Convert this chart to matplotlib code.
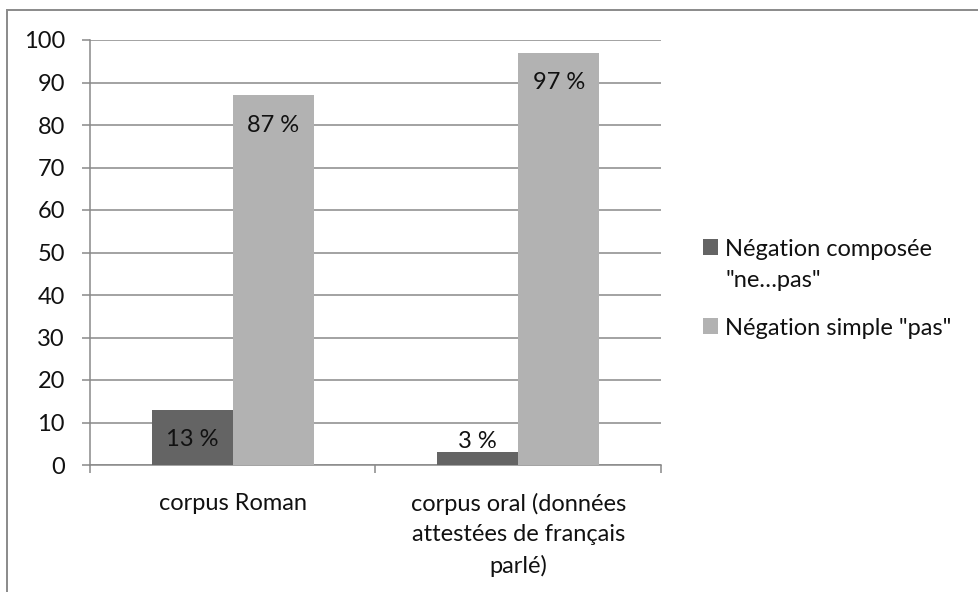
import matplotlib.pyplot as plt
from matplotlib.patches import Rectangle
import numpy as np

plt.rcParams["font.family"] = ["Lato", "DejaVu Sans"]

categories = ["corpus Roman", "corpus oral (données\nattestées de français\nparlé)"]
series_names = ['Négation composée\n"ne…pas"', 'Négation simple "pas"']
composee = [13, 3]
simple = [87, 97]
value_labels = [["13 %", "3 %"], ["87 %", "97 %"]]
colors = ["#646464", "#b2b2b2"]
grid_color = "#898989"
fs = 17

fig = plt.figure(figsize=(9.79, 5.92), dpi=100)
ax = fig.add_axes([90 / 979, 1 - 465 / 592, (661 - 90) / 979, (465 - 40) / 592])

x = np.arange(len(categories))
width = 0.284
bars = []
for i, (vals, color, name) in enumerate(zip([composee, simple], colors, series_names)):
    b = ax.bar(x + (i - 0.5) * width, vals, width, color=color, label=name, zorder=3)
    bars.append(b)
    for rect, v, lab in zip(b, vals, value_labels[i]):
        # Excel "inside end": sits inside the bar unless the bar is too short
        off = -21.5 if v > 8 else 7.5
        ax.annotate(lab, (rect.get_x() + rect.get_width() / 2, v),
                    xytext=(0, off), textcoords="offset points",
                    ha="center", va="center", fontsize=fs, color="#111111", zorder=4)

ax.set_ylim(0, 100)
ax.set_xlim(-0.5, 1.5)
ax.set_yticks(range(0, 101, 10))
ax.grid(axis="y", color=grid_color, linewidth=1.1, zorder=0)
ax.set_axisbelow(True)
for side in ["top", "right"]:
    ax.spines[side].set_visible(False)
for side in ["left", "bottom"]:
    ax.spines[side].set_color(grid_color)
    ax.spines[side].set_linewidth(1.1)

ax.tick_params(axis="y", length=6, width=1.1, color=grid_color, pad=12,
               labelsize=fs, labelcolor="#111111")
ax.set_xticks(x)
ax.set_xticklabels(categories, linespacing=1.55)
ax.tick_params(axis="x", which="major", length=0, pad=20, labelsize=fs, labelcolor="#111111")
ax.set_xticks([-0.5, 0.5, 1.5], minor=True)
ax.tick_params(axis="x", which="minor", length=6, width=1.1, color=grid_color)

leg = fig.legend(handles=bars, labels=series_names, loc="upper left",
                 bbox_to_anchor=(703 / 979, 1 - 239 / 592), frameon=False,
                 fontsize=fs, handlelength=0.64, handleheight=0.64,
                 handletextpad=0.3, labelspacing=1.15, borderaxespad=0, borderpad=0)
for t in leg.get_texts():
    t.set_color("#111111")
    t.set_linespacing(1.6)
# square next to the first line of a wrapped label, as Excel does
for col in leg._legend_handle_box.get_children():
    for entry in col.get_children():
        entry.align = "top"

fig.patches.append(Rectangle((7 / 979, -0.1), 1.1, 1.1 - 10 / 592,
                             transform=fig.transFigure, fill=False,
                             edgecolor="#8a8a8a", linewidth=1.4))

fig.savefig("out.png", dpi=100)
